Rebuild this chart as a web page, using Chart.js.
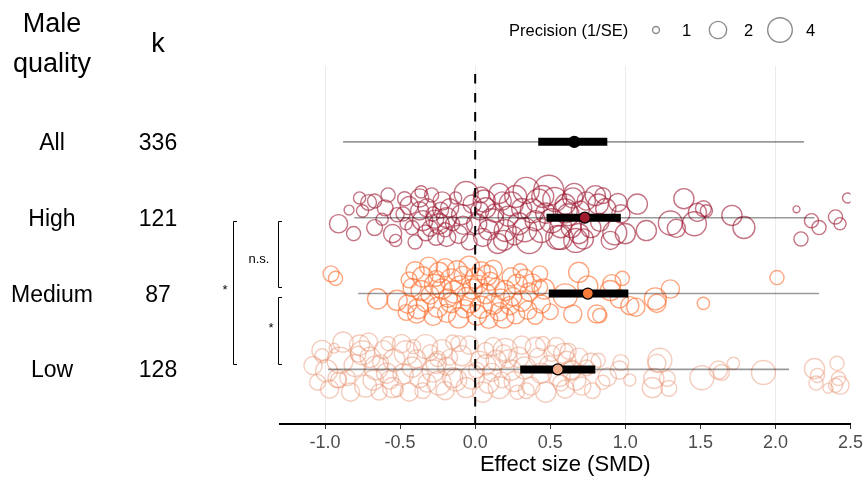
<!DOCTYPE html>
<html>
<head>
<meta charset="utf-8">
<title>Male quality orchard plot</title>
<script src="https://cdn.jsdelivr.net/npm/chart.js@4.4.1/dist/chart.umd.min.js"></script>
<style>
  html, body { margin: 0; padding: 0; background: #fff; }
  #wrap { width: 867px; height: 479px; position: relative; }
</style>
</head>
<body>
<div id="wrap"><canvas id="orchard" width="867" height="479"></canvas></div>
<script>
const groups = ['All', 'High', 'Medium', 'Low'];
const rowPos = [4, 3, 2, 1];

// pooled estimate, 95% CI and prediction interval for each group
const estimate = [0.66, 0.73, 0.75, 0.55];
const ciLow = [0.42, 0.475, 0.49, 0.30];
const ciHigh = [0.88, 0.97, 1.02, 0.80];
const piLow = [-0.88, -0.805, -0.78, -0.98];
const piHigh = [2.19, 2.26, 2.29, 2.09];

const xTicks = [-1.0, -0.5, 0, 0.5, 1.0, 1.5, 2.0, 2.5];
const precisionBreaks = [1, 2, 4];

// individual effect sizes (SMD), vertical jitter within the row, precision (1/SE)
const highES = [
  1.00, 1.08, 1.14, 1.30, 1.34, 1.39, 1.46, 1.48, 1.52, 1.54,
  1.71, 1.79, 2.14, 2.24, 2.29, 2.17, 2.40, 2.43, 2.48, 0.65,
  0.80, 0.85, 0.60, 0.77, 0.69, 0.93, 0.82, 0.97, 0.67, 0.57,
  -0.77, -0.71, -0.67, -0.91, -0.81, -0.67, -0.75, -0.60, -0.47, -0.48,
  -0.55, -0.53, -0.42, -0.37, -0.37, -0.35, -0.32, -0.30, -0.28, -0.26,
  -0.22, -0.24, -0.19, -0.17, -0.15, -0.19, -0.06, 0.01, 0.03, 0.05,
  0.07, 0.11, 0.16, 0.20, 0.24, 0.29, 0.34, 0.36, 0.38, 0.42,
  0.44, 0.49, 0.51, 0.55, 0.60, 0.64, 0.66, -0.84, -0.62, -0.58,
  -0.44, -0.40, -0.33, -0.29, -0.27, -0.23, -0.20, -0.13, -0.11, -0.09,
  -0.04, -0.02, 0.04, 0.09, 0.13, 0.15, 0.18, 0.22, 0.26, 0.27,
  0.31, 0.33, 0.40, 0.45, 0.47, 0.53, 0.57, 0.62, 0.70, 0.72,
  0.74, 0.83, 0.87, 0.90, 0.95, -0.52, -0.46, -0.36, -0.08, 0.06,
  0.19
];
const highJit = [
  -0.21, 0.18, -0.17, -0.07, -0.14, 0.25, -0.08, 0.07, 0.12, 0.09,
  0.03, -0.13, 0.11, -0.04, -0.13, -0.28, 0.01, -0.08, 0.26, 0.26,
  0.29, 0.29, 0.09, -0.13, -0.21, -0.20, 0.18, 0.05, -0.30, -0.26,
  0.26, 0.20, 0.22, -0.08, -0.21, -0.13, 0.09, 0.13, 0.25, 0.05,
  -0.21, -0.30, -0.13, 0.26, 0.09, -0.04, 0.13, -0.14, 0.05, -0.26,
  0.22, -0.08, -0.26, 0.13, -0.08, 0.00, 0.32, -0.08, 0.09, -0.26,
  0.13, -0.04, 0.32, -0.17, 0.18, -0.08, 0.36, -0.30, 0.09, 0.22,
  -0.17, 0.36, -0.04, -0.26, 0.18, -0.13, 0.32, 0.10, -0.02, 0.30,
  0.16, -0.32, -0.20, 0.30, -0.02, 0.10, -0.16, 0.26, -0.22, 0.04,
  -0.32, 0.18, 0.30, -0.16, 0.06, -0.34, 0.22, 0.02, -0.24, 0.28,
  0.12, -0.16, -0.04, 0.28, 0.06, 0.24, -0.12, 0.04, 0.10, -0.28,
  0.22, -0.06, 0.12, -0.30, 0.20, 0.04, -0.08, 0.34, -0.10, 0.22,
  -0.30
];
const highPrec = [
  2.7, 2.7, 2.7, 3.8, 2.2, 2.7, 3.8, 2.2, 1.8, 1.4,
  2.7, 3.2, 1.0, 1.6, 1.6, 1.6, 1.6, 1.4, 1.2, 2.7,
  2.7, 1.8, 3.8, 2.7, 2.7, 3.8, 2.7, 2.2, 3.8, 3.8,
  1.4, 1.8, 1.6, 2.2, 1.6, 1.8, 1.4, 1.8, 1.6, 1.6,
  2.2, 1.4, 1.6, 2.2, 2.2, 2.7, 2.2, 1.8, 1.6, 1.8,
  2.2, 2.7, 2.2, 2.2, 1.6, 2.7, 3.8, 2.7, 2.2, 2.2,
  2.7, 3.8, 2.7, 3.2, 3.8, 3.2, 4.5, 4.5, 3.8, 3.8,
  3.8, 6.0, 3.8, 3.8, 2.7, 2.7, 2.7, 1.2, 1.4, 1.6,
  2.2, 1.6, 1.8, 1.6, 2.2, 1.8, 1.6, 1.4, 2.2, 2.7,
  1.8, 2.2, 1.8, 2.7, 2.2, 2.7, 2.2, 2.7, 2.2, 3.2,
  2.7, 3.8, 2.7, 3.2, 2.7, 3.8, 3.2, 3.2, 2.2, 2.7,
  2.2, 2.2, 2.7, 2.2, 2.2, 1.6, 1.4, 1.4, 2.2, 3.2,
  2.7
];

const mediumES = [
  -0.96, -0.93, -0.65, -0.52, -0.46, -0.39, 0.69, 0.75, 0.60, 0.65,
  0.81, 0.83, 0.90, 0.91, 0.98, 0.96, 1.03, 1.07, 1.20, 1.21,
  1.30, 1.52, 2.01, 0.43, -0.40, -0.35, -0.31, -0.27, -0.24, -0.20,
  -0.16, -0.12, -0.08, -0.04, 0.00, 0.04, 0.08, 0.12, 0.24, 0.33,
  0.43, -0.42, -0.36, -0.30, -0.22, -0.14, -0.10, -0.02, 0.02, 0.07,
  0.14, 0.20, 0.28, 0.36, 0.46, -0.45, -0.38, -0.33, -0.28, -0.25,
  -0.19, -0.16, -0.11, -0.07, -0.03, 0.01, 0.04, 0.09, 0.12, 0.16,
  0.19, 0.23, 0.27, 0.31, 0.35, 0.40, 0.44, 0.50, -0.06, 0.10,
  -0.26, 0.17, -0.44, 0.30, 0.38, 0.25, -0.18
];
const mediumJit = [
  0.26, 0.20, -0.07, -0.09, -0.25, -0.27, 0.28, 0.10, -0.03, -0.27,
  -0.27, -0.29, 0.04, 0.13, 0.20, -0.07, -0.16, -0.18, -0.07, -0.13,
  0.06, -0.13, 0.21, 0.08, 0.30, 0.22, 0.36, 0.12, 0.28, 0.34,
  0.18, 0.30, 0.24, 0.36, 0.20, 0.30, 0.24, 0.32, 0.22, 0.20,
  0.26, 0.08, 0.04, -0.02, 0.06, 0.02, 0.10, 0.06, 0.12, 0.00,
  0.08, 0.04, 0.12, 0.02, 0.06, -0.14, -0.20, -0.12, -0.30, -0.18,
  -0.26, -0.12, -0.32, -0.20, -0.12, -0.28, -0.18, -0.34, -0.14, -0.24,
  -0.32, -0.16, -0.28, -0.10, -0.22, -0.30, -0.14, -0.24, -0.04, 0.16,
  0.20, -0.06, 0.18, 0.30, 0.14, -0.04, -0.06
];
const mediumPrec = [
  1.8, 1.6, 2.7, 2.7, 1.8, 2.2, 2.7, 2.7, 3.8, 2.2,
  2.2, 1.6, 2.7, 2.2, 1.6, 2.2, 2.2, 2.2, 3.2, 2.2,
  2.2, 1.4, 1.6, 1.8, 2.2, 2.7, 2.2, 2.7, 2.7, 2.2,
  3.2, 2.7, 2.2, 2.7, 2.7, 2.2, 2.7, 2.2, 2.2, 2.2,
  1.8, 2.2, 2.7, 2.2, 2.7, 3.2, 2.7, 2.7, 2.2, 2.7,
  2.2, 2.7, 2.7, 2.2, 2.7, 2.2, 2.7, 2.2, 2.2, 2.7,
  2.2, 2.7, 2.7, 2.2, 2.7, 2.7, 3.2, 2.2, 2.7, 2.2,
  2.7, 2.2, 2.2, 2.7, 2.2, 1.8, 2.2, 1.8, 2.2, 2.2,
  1.8, 2.2, 1.8, 1.6, 2.2, 2.2, 2.2
];

const lowES = [
  0.59, 0.61, 0.64, 0.67, 0.77, 0.78, 0.85, 0.97, 0.96, 1.03,
  1.23, 1.21, 1.19, 1.18, 1.28, 1.29, 1.51, 1.62, 1.64, 1.72,
  1.92, 2.26, 2.28, 2.27, 2.35, 2.41, 2.42, 2.43, 2.40, -1.05,
  -1.02, -0.94, -0.91, -0.85, -0.77, -0.75, -0.70, -0.68, -0.63, -0.59,
  -0.55, -0.52, -0.46, -0.42, -0.37, -0.35, -0.30, -0.26, -0.24, -0.17,
  -0.15, -0.11, -0.06, 0.01, 0.07, 0.09, 0.14, 0.18, 0.20, 0.24,
  0.29, 0.34, 0.40, 0.44, 0.51, 0.57, 0.64, -1.08, -0.99, -0.97,
  -0.90, -0.88, -0.83, -0.80, -0.78, -0.73, -0.71, -0.66, -0.61, -0.57,
  -0.54, -0.49, -0.48, -0.44, -0.39, -0.33, -0.32, -0.28, -0.22, -0.20,
  -0.19, -0.13, -0.09, -0.04, -0.02, 0.03, 0.05, 0.11, 0.12, 0.16,
  0.22, 0.26, 0.31, 0.33, 0.37, 0.42, 0.47, 0.49, 0.54, 0.56,
  0.62, 0.69, 0.71, 0.74, 0.82, 0.88, -1.02, -0.92, -0.64, -0.41,
  -0.25, -0.15, 0.19, 0.28, 0.45, 0.60, 0.07, -0.58
];
const lowJit = [
  0.21, 0.12, -0.01, -0.14, 0.08, -0.28, -0.17, 0.09, -0.01, -0.14,
  0.12, 0.08, -0.12, -0.24, -0.12, -0.25, -0.11, -0.01, -0.04, 0.08,
  -0.04, 0.01, -0.08, -0.18, -0.25, 0.08, -0.12, -0.21, -0.21, -0.17,
  0.25, 0.28, -0.14, -0.11, 0.32, 0.22, 0.16, -0.14, 0.09, -0.05,
  -0.24, -0.28, 0.22, 0.03, -0.11, -0.28, 0.22, 0.08, -0.18, 0.16,
  -0.11, 0.34, -0.24, -0.01, 0.25, -0.18, 0.12, -0.14, 0.25, -0.01,
  0.16, -0.28, 0.29, -0.05, 0.21, -0.18, -0.01, 0.05, -0.02, -0.26,
  0.12, 0.36, -0.30, 0.05, 0.20, -0.22, 0.36, 0.02, 0.26, -0.14,
  0.12, 0.34, -0.06, -0.30, 0.14, 0.30, -0.18, -0.02, 0.26, -0.28,
  0.04, -0.14, 0.18, 0.32, -0.10, 0.12, -0.30, -0.04, 0.30, -0.24,
  0.14, -0.16, 0.32, 0.02, -0.22, 0.16, -0.30, 0.06, 0.30, -0.08,
  0.24, 0.16, -0.22, 0.02, 0.12, -0.10, 0.18, -0.12, -0.30, 0.30,
  0.14, 0.36, 0.22, -0.30, 0.34, -0.26, 0.06, 0.34
];
const lowPrec = [
  2.7, 2.2, 2.2, 2.7, 2.7, 1.8, 1.6, 1.8, 2.2, 1.4,
  3.8, 2.2, 2.7, 2.7, 1.8, 1.8, 3.8, 2.2, 1.8, 1.4,
  3.8, 2.7, 1.6, 1.6, 1.2, 1.6, 1.6, 2.2, 1.6, 1.8,
  2.7, 1.2, 1.8, 1.8, 2.7, 3.8, 2.7, 2.7, 1.8, 2.7,
  2.7, 1.4, 3.8, 2.7, 2.7, 1.8, 1.8, 2.7, 3.8, 1.8,
  2.7, 1.8, 2.7, 1.8, 1.8, 2.7, 2.7, 1.8, 3.8, 2.7,
  2.7, 1.8, 2.7, 2.7, 1.8, 1.8, 2.7, 2.2, 3.2, 2.2,
  4.5, 2.7, 2.2, 3.2, 1.8, 3.2, 2.2, 3.8, 2.2, 2.2,
  3.2, 2.2, 2.7, 2.2, 2.2, 3.8, 2.2, 3.2, 2.7, 2.2,
  2.2, 3.2, 2.7, 2.2, 3.8, 2.2, 2.7, 2.2, 2.2, 3.2,
  2.2, 2.7, 2.2, 3.2, 2.2, 2.2, 2.7, 2.2, 2.2, 3.2,
  1.8, 2.2, 2.2, 1.8, 1.6, 2.2, 1.6, 2.2, 1.8, 1.6,
  1.8, 1.6, 1.8, 1.6, 1.6, 2.2, 2.7, 1.6
];

const FONT = '"Liberation Sans", Arial, Helvetica, sans-serif';
Chart.defaults.font.family = FONT;

// circle area grows with precision, same mapping used by the size key
function radiusFor(p) {
  const area = p <= 2 ? 12 + 63 * (p - 1) : 75 + 38 * (p - 2);
  return Math.sqrt(Math.max(area, 6));
}

const subgroups = [
  { es: highES, jit: highJit, prec: highPrec, row: 3, stroke: 'rgba(160, 30, 55, 0.62)', fill: '#a01a30' },
  { es: mediumES, jit: mediumJit, prec: mediumPrec, row: 2, stroke: 'rgba(252, 112, 48, 0.62)', fill: '#fb7b3b' },
  { es: lowES, jit: lowJit, prec: lowPrec, row: 1, stroke: 'rgba(230, 145, 110, 0.45)', fill: '#f2ae8c' }
];

const kCounts = [highES.length + mediumES.length + lowES.length, highES.length, mediumES.length, lowES.length];
const meanFill = ['#000000', '#a01a30', '#fb7b3b', '#f2ae8c'];

const datasets = [];

// raw effect sizes (bottom layer)
subgroups.forEach(g => {
  datasets.push({
    type: 'scatter',
    data: g.es.map((x, i) => ({ x: x, y: g.row + g.jit[i] })),
    pointRadius: ctx => radiusFor(g.prec[ctx.dataIndex]),
    pointBackgroundColor: 'rgba(0,0,0,0)',
    pointBorderColor: g.stroke,
    pointBorderWidth: 1.4,
    order: 5
  });
});

// prediction intervals, confidence intervals and pooled means
groups.forEach((name, i) => {
  datasets.push({
    type: 'line',
    data: [{ x: piLow[i], y: rowPos[i] }, { x: piHigh[i], y: rowPos[i] }],
    borderColor: 'rgba(0,0,0,0.4)',
    borderWidth: 1.6,
    pointRadius: 0,
    order: 3
  });
  datasets.push({
    type: 'line',
    data: [{ x: ciLow[i], y: rowPos[i] }, { x: ciHigh[i], y: rowPos[i] }],
    borderColor: '#000',
    borderWidth: 8,
    borderCapStyle: 'butt',
    pointRadius: 0,
    order: 2
  });
  datasets.push({
    type: 'scatter',
    data: [{ x: estimate[i], y: rowPos[i] }],
    pointRadius: 5.5,
    pointBackgroundColor: meanFill[i],
    pointBorderColor: '#000',
    pointBorderWidth: 1.3,
    order: 1
  });
});

const decor = {
  id: 'decor',
  afterDatasetsDraw(chart) {
    const { ctx, chartArea, scales } = chart;
    const x0 = scales.x.getPixelForValue(0);
    ctx.save();
    ctx.strokeStyle = '#000';
    ctx.lineWidth = 2;
    ctx.setLineDash([9.5, 9.5]);
    ctx.lineDashOffset = -8;
    ctx.beginPath();
    ctx.moveTo(x0, chartArea.top);
    ctx.lineTo(x0, chartArea.bottom);
    ctx.stroke();
    ctx.restore();
  },
  afterDraw(chart) {
    const { ctx, scales } = chart;
    ctx.save();
    ctx.fillStyle = '#000';
    ctx.textAlign = 'center';
    ctx.textBaseline = 'alphabetic';

    // column headers
    ctx.font = '27px ' + FONT;
    ctx.fillText('Male', 52, 32);
    ctx.fillText('quality', 52, 72);
    ctx.fillText('k', 158, 52);

    // group names and number of effect sizes
    ctx.font = '23px ' + FONT;
    groups.forEach((name, i) => {
      const y = scales.y.getPixelForValue(rowPos[i]) + 8;
      ctx.fillText(name, 52, y);
      ctx.fillText(String(kCounts[i]), 158, y);
    });

    // pairwise comparison brackets
    ctx.strokeStyle = '#000';
    ctx.lineWidth = 1;
    const bracket = (x, y1, y2) => {
      ctx.beginPath();
      ctx.moveTo(x + 4, y1 + 0.5);
      ctx.lineTo(x + 0.5, y1 + 0.5);
      ctx.lineTo(x + 0.5, y2 - 0.5);
      ctx.lineTo(x + 4, y2 - 0.5);
      ctx.stroke();
    };
    bracket(233, 221, 365);
    bracket(278, 221, 288);
    bracket(278, 297, 365);
    ctx.font = '13px ' + FONT;
    ctx.fillText('n.s.', 259, 263);
    ctx.fillText('*', 225, 294);
    ctx.fillText('*', 271, 332);

    // size key
    ctx.textAlign = 'left';
    ctx.font = '16.5px ' + FONT;
    ctx.fillText('Precision (1/SE)', 509, 36);
    const keyX = [656, 718, 780];
    ctx.strokeStyle = '#8c8c8c';
    ctx.lineWidth = 1.4;
    precisionBreaks.forEach((p, i) => {
      ctx.beginPath();
      ctx.arc(keyX[i], 30, radiusFor(p), 0, Math.PI * 2);
      ctx.stroke();
      ctx.fillText(String(p), keyX[i] + 26, 36);
    });
    ctx.restore();
  }
};

new Chart(document.getElementById('orchard'), {
  type: 'scatter',
  data: { datasets: datasets },
  options: {
    responsive: false,
    animation: false,
    events: [],
    layout: { padding: { left: 280, right: 12, top: 66, bottom: 0 } },
    plugins: { legend: { display: false }, tooltip: { enabled: false } },
    scales: {
      x: {
        type: 'linear',
        min: -1.3,
        max: 2.5,
        afterBuildTicks: scale => { scale.ticks = xTicks.map(v => ({ value: v })); },
        afterFit: scale => { scale.height = 55; },
        border: { color: '#000', width: 2 },
        grid: {
          color: c => (c.tick && Number.isInteger(c.tick.value)) ? '#ebebeb' : 'rgba(0,0,0,0)',
          tickColor: '#333',
          tickLength: 5,
          lineWidth: 1
        },
        ticks: {
          color: '#4d4d4d',
          font: { size: 18 },
          padding: 3,
          autoSkip: false,
          maxRotation: 0,
          callback: v => Number(v).toFixed(1)
        },
        title: {
          display: true,
          text: 'Effect size (SMD)',
          color: '#000',
          font: { size: 22 },
          padding: { top: 0, bottom: 1 }
        }
      },
      y: { type: 'linear', min: 0.28, max: 5.0, display: false }
    }
  },
  plugins: [decor]
});
</script>
</body>
</html>
